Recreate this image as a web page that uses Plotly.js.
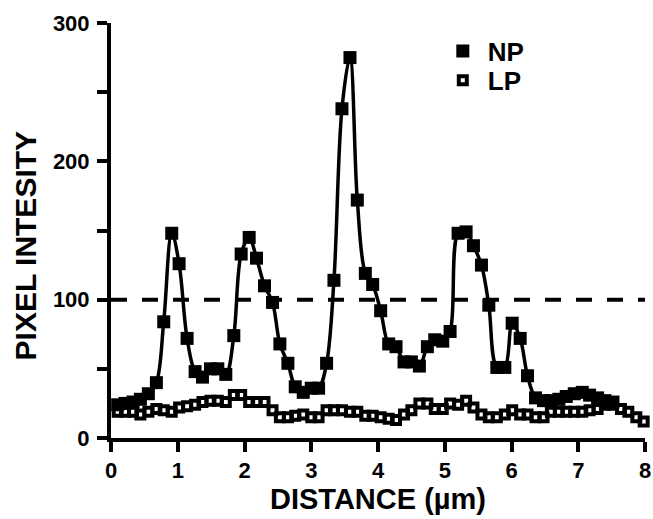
<!DOCTYPE html>
<html>
<head>
<meta charset="utf-8">
<script src="https://cdn.plot.ly/plotly-3.0.1.min.js"></script>
<style>html,body{margin:0;padding:0;background:#fff;}#chart{width:653px;height:519px;}</style>
</head>
<body>
<div id="chart"></div>
<script>
// Distance (µm) of each sample
const npDistance = [0.10,0.21,0.33,0.44,0.56,0.68,0.79,0.91,1.02,1.14,1.26,1.37,1.49,1.60,1.72,1.84,1.95,2.07,2.18,2.30,2.42,2.53,2.65,2.76,2.88,3.00,3.11,3.23,3.34,3.46,3.58,3.69,3.81,3.92,4.04,4.16,4.27,4.39,4.50,4.62,4.74,4.85,4.97,5.08,5.20,5.32,5.43,5.55,5.66,5.78,5.90,6.01,6.13,6.24,6.36,6.48,6.59,6.71,6.82,6.94,7.06,7.17,7.29,7.40,7.52];
const npIntensity = [24,25,26,28,32,40,84,148,126,72,48,44,50,50,46,74,133,145,130,110,98,68,54,37,33,36,36,54,114,238,275,172,119,111,92,68,66,55,55,52,66,71,70,77,148,149,139,125,96,51,51,83,72,45,29,27,27,28,30,32,33,31,29,27,26];

const lpDistance = [0.10,0.21,0.33,0.44,0.56,0.68,0.79,0.91,1.02,1.14,1.26,1.37,1.49,1.60,1.72,1.84,1.95,2.07,2.18,2.30,2.42,2.53,2.65,2.76,2.88,3.00,3.11,3.23,3.34,3.46,3.58,3.69,3.81,3.92,4.04,4.16,4.27,4.39,4.50,4.62,4.74,4.85,4.97,5.08,5.20,5.32,5.43,5.55,5.66,5.78,5.90,6.01,6.13,6.24,6.36,6.48,6.59,6.71,6.82,6.94,7.06,7.17,7.29,7.40,7.52,7.64,7.75,7.87,7.98];
const lpIntensity = [19,19,19,17,19,21,20,19,22,23,24,26,27,27,26,31,31,26,26,26,20,15,15,16,17,15,15,20,20,20,19,19,16,16,15,14,13,17,20,25,25,21,21,25,24,27,22,17,15,15,17,20,17,17,15,15,19,19,19,19,19,20,21,24,24,21,19,15,12];

const threshold = 100;
const xTicks = [0,1,2,3,4,5,6,7,8];
const yTicks = [0,50,100,150,200,250,300];
const yTickText = ['0','','100','','200','','300'];
const seriesNames = ['NP','LP'];
const xTitle = 'DISTANCE (µm)';
const yTitle = 'PIXEL INTESITY';

const FONT = 'Liberation Sans, Arial, Helvetica, sans-serif';

const traces = [
  {
    x: lpDistance, y: lpIntensity, type: 'scatter', mode: 'markers', name: seriesNames[1],
    marker: {symbol: 'square-open', size: 8, color: '#000', line: {width: 4, color: '#000'}},
    cliponaxis: false, legend: 'legend2'
  },
  {
    x: npDistance, y: npIntensity, type: 'scatter', mode: 'lines', showlegend: false,
    line: {color: '#000', width: 3.5, shape: 'spline', smoothing: 1},
    cliponaxis: false, hoverinfo: 'skip'
  },
  {
    x: npDistance, y: npIntensity, type: 'scatter', mode: 'markers', name: seriesNames[0],
    marker: {symbol: 'square', size: 13, color: '#000', line: {width: 0}},
    cliponaxis: false, legend: 'legend'
  }
];

const axisCommon = {
  showline: true, linewidth: 4, linecolor: '#000', mirror: false,
  ticks: 'outside', ticklen: 10, tickwidth: 4, tickcolor: '#000',
  showgrid: false, zeroline: false,
  tickfont: {family: FONT, size: 22, color: '#000', weight: 'bold'}
};

const legendCommon = {
  xanchor: 'left', yanchor: 'middle',
  bgcolor: 'rgba(0,0,0,0)', borderwidth: 0,
  font: {family: FONT, size: 26, color: '#000', weight: 'bold'},
  itemwidth: 40
};

const layout = {
  width: 653, height: 519,
  margin: {l: 111, r: 8, t: 23, b: 81},
  paper_bgcolor: '#fff', plot_bgcolor: '#fff',
  showlegend: true,
  legend: Object.assign({}, legendCommon, {x: 0.612, y: 0.932}),
  legend2: Object.assign({}, legendCommon, {x: 0.612, y: 0.862}),
  xaxis: Object.assign({}, axisCommon, {
    range: [0, 8], tickvals: xTicks,
    ticklabelstandoff: 0,
    title: {text: xTitle, font: {family: FONT, size: 29, color: '#000', weight: 'bold'}, standoff: 0}
  }),
  yaxis: Object.assign({}, axisCommon, {
    range: [0, 300], tickvals: yTicks, ticktext: yTickText,
    ticklabelstandoff: 3
  }),
  annotations: [{
    text: yTitle, xref: 'paper', yref: 'paper', x: 0, y: 0.464,
    xshift: -86, xanchor: 'center', yanchor: 'middle', textangle: -90, showarrow: false,
    font: {family: FONT, size: 30, color: '#000', weight: 'bold'}
  }],
  shapes: [{
    type: 'line', xref: 'x', yref: 'y', x0: 0, x1: 8, y0: threshold, y1: threshold,
    line: {color: '#000', width: 4, dash: '16px,15px'}, layer: 'below'
  }]
};

Plotly.newPlot('chart', traces, layout, {displayModeBar: false, staticPlot: true});
</script>
</body>
</html>
